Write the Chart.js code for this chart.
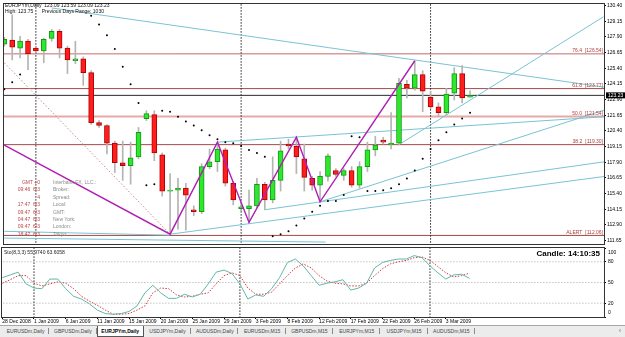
<!DOCTYPE html>
<html>
<head>
<meta charset="utf-8">
<script src="https://cdn.jsdelivr.net/npm/chart.js@4.4.0/dist/chart.umd.min.js"></script>
<style>
  html, body { margin: 0; padding: 0; background: #fff; }
  body { width: 625px; height: 337px; position: relative; overflow: hidden; font-family: 'Liberation Sans', Arial, sans-serif; }
  canvas { position: absolute; left: 0; }
  #main { top: 0; }
  #sto { top: 247px; }
  .hdr { position: absolute; left: 5px; font-size: 5px; line-height: 6px; color: #111; white-space: pre; }
  #info { position: absolute; left: 0; top: 179px; font-size: 5px; line-height: 7.4px; white-space: pre; }
  #info .r { display: inline-block; width: 40px; text-align: right; color: #c04646; }
  #info .l { display: inline-block; margin-left: 13px; color: #8c8c8c; }
  #stoTitle { position: absolute; left: 4px; top: 249px; font-size: 5px; color: #222; white-space: pre; }
  #timer { position: absolute; right: 25px; top: 249px; font: bold 8px 'Liberation Sans', Arial, sans-serif; color: #000; }
  #tabs { position: absolute; left: 0; top: 325px; width: 625px; height: 12px; box-sizing: border-box; padding-left: 2px;
          background: #ececec; border-top: 1px solid #a8a8a8; display: flex; font-size: 5px; white-space: nowrap; }
  .tab { position: relative; width: 47.3px; height: 11px; line-height: 10px; text-align: center; color: #444; flex: none; }
  .tab:after { content: ''; position: absolute; right: 0; top: 2px; height: 6px; border-right: 1px solid #8a8a8a; }
  .tab.on { background: #fff; color: #000; font-weight: bold; border: 1px solid #555; border-top: none; box-sizing: border-box; }
  .tab.on:after { display: none; }
  #arrow { position: absolute; right: 4px; top: 0; line-height: 10px; font-size: 7px; color: #777; }
</style>
</head>
<body>
<canvas id="main" width="625" height="248"></canvas>
<canvas id="sto" width="625" height="80"></canvas>

<div class="hdr" style="top:2px">EURJPYm,Daily  123.09 123.59 123.09 123.23</div>
<div class="hdr" style="top:8px">High: 123.75      Previous Days Range: 1030</div>

<div id="info"><span class="r">GMT +0</span><span class="l">Interbank FX, LLC.:</span>
<span class="r">09:46  6/3</span><span class="l">Broker:</span>
<span class="r">4</span><span class="l">Spread:</span>
<span class="r">17:47  6/3</span><span class="l">Local:</span>
<span class="r">09:47  6/3</span><span class="l">GMT:</span>
<span class="r">04:47  6/3</span><span class="l">New York:</span>
<span class="r">09:47  6/3</span><span class="l">London:</span>
<span class="r">18:47  6/3</span><span class="l">Tokyo:</span></div>

<div id="stoTitle">Sto(8,3,3) 55.9740 63.6058</div>
<div id="timer">Candle:  14:10:35</div>

<div id="tabs"><span class="tab">EURUSDm,Daily</span><span class="tab">GBPUSDm,Daily</span><span class="tab on">EURJPYm,Daily</span><span class="tab">USDJPYm,Daily</span><span class="tab">AUDUSDm,Daily</span><span class="tab">EURUSDm,M15</span><span class="tab">GBPUSDm,M15</span><span class="tab">EURJPYm,M15</span><span class="tab">USDJPYm,M15</span><span class="tab">AUDUSDm,M15</span><span id="arrow">‹</span></div>

<script>
// daily bars, 28 Dec 2008 .. 6 Mar 2009 (Sunday bars included)
const opens = [127.31,127.63,127.00,127.55,127.00,126.77,127.78,128.33,127.00,125.99,
  126.14,125.05,121.06,120.83,119.42,117.86,117.63,118.33,121.38,121.69,
  118.49,115.60,115.67,115.83,114.11,113.95,117.55,117.94,118.88,116.22,
  114.19,114.19,114.42,116.14,114.89,116.45,119.35,119.19,118.17,116.61,
  116.06,116.77,117.24,116.85,117.24,116.06,117.55,118.88,119.66,119.27,
  119.42,124.11,123.80,124.89,123.10,122.31,121.85,123.41,124.97,123.09];
const highs = [127.86,129.66,127.94,127.70,127.16,127.78,128.49,128.49,127.16,127.55,
  126.30,125.20,121.22,120.91,119.58,119.58,119.50,120.67,122.00,122.00,
  118.64,117.00,116.61,116.22,114.42,117.78,118.95,119.50,119.03,116.38,
  114.66,115.67,116.61,116.30,118.33,119.58,119.74,119.89,119.35,116.77,
  117.16,118.56,117.39,117.39,117.55,117.94,119.50,119.97,119.89,121.85,
  124.58,124.42,125.99,125.20,123.56,122.63,123.80,125.44,125.60,123.59];
const lows = [127.16,126.06,126.22,125.28,126.61,125.83,127.55,126.22,124.97,125.75,
  124.03,120.91,120.67,118.56,117.08,116.45,116.14,118.17,121.22,118.02,
  115.20,112.16,112.55,112.47,113.64,113.80,117.39,117.16,115.99,114.50,
  114.03,113.10,114.27,114.11,114.66,115.60,118.95,117.00,115.60,115.67,
  114.74,116.38,116.77,116.45,115.91,115.83,117.16,118.41,119.35,118.95,
  119.27,123.02,123.64,121.92,122.16,121.53,121.69,122.86,122.63,123.09];
const closes = [127.70,127.08,127.55,126.53,126.77,127.70,128.33,127.00,126.06,126.14,
  125.05,121.06,120.83,119.42,117.86,117.63,118.25,120.28,121.77,118.64,
  115.60,115.67,115.83,115.28,113.95,117.55,117.94,118.95,116.22,114.89,
  114.35,114.42,116.14,114.89,116.45,118.80,119.19,118.33,116.69,116.06,
  116.77,118.41,116.92,117.24,116.06,117.55,118.88,119.27,119.50,119.42,
  124.19,123.80,124.89,123.56,122.31,121.85,123.33,124.97,123.02,123.23];

// parabolic SAR dots (null = off the chart)
const sar = [123.72,124.27,124.89,null,null,null,null,null,null,null,
  null,129.58,128.88,128.02,126.92,125.52,124.11,122.63,116.06,116.14,
  122.00,121.92,121.53,121.14,120.83,120.44,120.05,119.74,119.50,119.42,
  119.19,118.88,118.64,118.33,112.00,112.16,112.39,112.86,113.41,113.95,
  114.42,114.81,114.81,115.28,119.97,119.89,115.60,115.60,115.67,115.83,
  116.14,116.61,117.24,118.17,118.95,119.66,120.28,120.91,121.38,121.85];

// stochastic (8,3,3)
const stoK = [57,61,65,48,42,41,55,55,41,30, 26,19,10,5,4,5,8,16,35,46,
  35,27,27,33,29,33,48,65,68,63, 48,26,32,30,41,57,79,84,74,60,
  46,49,51,54,39,42,49,71,79,82, 84,84,89,86,74,64,55,61,62,55.97];
const stoD = [49,54,60,60,49,45,48,51,49,41, 30,23,17,10,4,4,5,10,16,35,
  42,41,32,29,30,33,35,48,60,64, 60,42,33,33,36,48,60,71,77,71,
  60,52,49,48,45,45,49,60,70,77, 80,82,86,87,82,73,64,58,60,63.61];
const stoLevels = [80, 50, 20];
const stoTicks = [100, 80, 50, 20, 0];

// drawn objects: [bar index, price]
const levelNames = ['76.4', '61.8', '50.0', '38.2', 'ALERT'];
const levelValues = [126.54, 123.77, 121.54, 119.30, 112.06];
const lastPrice = 123.23;
const zigzag = [[0,119.27],[21,112.16],[27,119.50],[31,113.10],[37,119.89],[40,114.74],[52,125.99]];
const fanLine = [[0,125.83],[21,112.16]];
const trendLines = [
  [[6.0,130.20],[76.1,123.88]],
  [[50.0,119.30],[75.9,129.50]],
  [[27.0,119.50],[76.1,121.53]],
  [[40.0,114.74],[76.1,122.08]],
  [[21.0,112.16],[76.1,116.77]],
  [[33.0,114.11],[76.1,117.94]],
  [[0,112.39],[21.0,112.08]],
  [[0,111.85],[40.7,111.53]]
];
const monthStarts = [4, 30, 54];

const priceTicks = [130.40,129.15,127.90,126.65,125.40,124.15,122.90,121.65,120.40,119.15,117.90,116.65,115.40,114.15,112.90,111.65];
const dateTickIdx = [0,4,8,12,16,20,24,28,32,36,40,44,48,52,56];
const dateTickLabels = ['28 Dec 2008','1 Jan 2009','6 Jan 2009','11 Jan 2009','15 Jan 2009','20 Jan 2009','25 Jan 2009',
  '29 Jan 2009','3 Feb 2009','8 Feb 2009','12 Feb 2009','17 Feb 2009','22 Feb 2009','26 Feb 2009','3 Mar 2009'];

const FONT = "'Liberation Sans', Arial, sans-serif";
Chart.defaults.font.family = FONT;
const xMin = -0.04, xMax = 75.97;

const levelColors = ['#c46a6a', '#a44848', '#e6aaaa', '#a44848', '#a44848'];
const levelWidths = [1, 1, 2, 1, 1];

function seg(points, color, width, dash, order) {
  return {
    type: 'line', data: points.map(p => ({x: p[0], y: p[1]})),
    borderColor: color, borderWidth: width, borderDash: dash || [],
    pointRadius: 0, fill: false, tension: 0, order: order
  };
}

const up = r => r && r.y[1] >= r.y[0];

const mainSets = [];
levelValues.forEach((v, i) => mainSets.push(seg([[-1, v], [80, v]], levelColors[i], levelWidths[i], null, 10)));
mainSets.push(seg([[-1, lastPrice], [80, lastPrice]], '#2a2a2a', 1, null, 10));
monthStarts.forEach(m => mainSets.push(seg([[m, 100], [m, 140]], '#222', 1, [1.5, 1.5], 9)));
trendLines.forEach(t => mainSets.push(seg(t, '#78c4d4', 1, null, 8)));
mainSets.push(seg(fanLine, '#c88a8a', 1, [1.5, 2], 8));
mainSets.push({
  type: 'bar', data: highs.map((h, i) => ({x: i, y: [lows[i], h]})),
  grouped: false, barThickness: 1, backgroundColor: '#b4b4b4', borderWidth: 0, order: 5, clip: 0
});
mainSets.push({
  type: 'bar', data: opens.map((o, i) => ({x: i, y: [o, closes[i]]})),
  grouped: false, barThickness: 5, borderWidth: 1, borderSkipped: false, order: 4, clip: 0,
  backgroundColor: c => up(c.raw) ? '#2ee82e' : '#ff1e1e',
  borderColor: c => up(c.raw) ? '#139a13' : '#b40000'
});
mainSets.push(seg(zigzag, '#b01eb4', 1.4, null, 2));
mainSets.push({
  type: 'line', data: sar.map((v, i) => ({x: i, y: v})).filter(p => p.y !== null),
  showLine: false, pointRadius: 1, pointBorderWidth: 0, pointBackgroundColor: '#000', order: 1
});

const mainDecor = {
  id: 'mainDecor',
  afterDraw(chart) {
    const {ctx, chartArea: a, scales: {y}} = chart;
    ctx.save();
    ctx.strokeStyle = '#333';
    ctx.lineWidth = 1;
    ctx.strokeRect(a.left - 0.5, a.top - 0.5, a.right - a.left + 1, a.bottom - a.top + 1);
    ctx.font = '5px ' + FONT;
    ctx.textBaseline = 'bottom';
    ctx.fillStyle = '#b03c3c';
    levelValues.forEach((v, i) => {
      const py = y.getPixelForValue(v);
      ctx.textAlign = 'right';
      const val = '[' + v.toFixed(2) + ']';
      ctx.fillText(val, a.right - 1, py - 0.5);
      const w = ctx.measureText(val).width;
      ctx.fillText(levelNames[i], a.right - 4 - w, py - 0.5);
    });
    // current price box
    const py = y.getPixelForValue(lastPrice);
    ctx.fillStyle = '#000';
    ctx.fillRect(a.right + 2, py - 3, 19, 6);
    ctx.fillStyle = '#fff';
    ctx.textAlign = 'left';
    ctx.textBaseline = 'middle';
    ctx.fillText(lastPrice.toFixed(2), a.right + 4, py + 0.3);
    ctx.restore();
  }
};

new Chart(document.getElementById('main'), {
  type: 'bar',
  data: { datasets: mainSets },
  options: {
    responsive: false, animation: false,
    layout: { padding: { left: 2, top: 2, right: 0, bottom: 1 } },
    plugins: { legend: { display: false }, tooltip: { enabled: false } },
    scales: {
      x: { type: 'linear', min: xMin, max: xMax, offset: false, display: false },
      y: {
        position: 'right', min: 111.377, max: 130.517, bounds: 'data',
        afterBuildTicks: s => { s.ticks = priceTicks.map(v => ({value: v})); },
        afterFit: s => { s.width = 21; },
        ticks: { autoSkip: false, callback: v => v.toFixed(2), font: { size: 5 }, color: '#000', padding: 1 },
        grid: { drawOnChartArea: false, drawTicks: true, tickLength: 2, tickColor: '#000' },
        border: { display: true, color: '#000' }
      }
    }
  },
  plugins: [mainDecor]
});

// stochastic pane
const stoSets = [];
stoLevels.forEach(v => stoSets.push(seg([[-1, v], [80, v]], '#a8a8a8', 1, [1, 2], 10)));
monthStarts.forEach(m => stoSets.push(seg([[m, -10], [m, 110]], '#222', 1, [1.5, 1.5], 9)));
stoSets.push(seg(stoD.map((v, i) => [i, v]), '#d03a3a', 1, [1.5, 1.5], 3));
stoSets.push(seg(stoK.map((v, i) => [i, v]), '#62b6aa', 1, null, 2));

const stoDecor = {
  id: 'stoDecor',
  afterDraw(chart) {
    const {ctx, chartArea: a, scales: {y}} = chart;
    ctx.save();
    ctx.strokeStyle = '#333';
    ctx.lineWidth = 1;
    ctx.strokeRect(a.left - 0.5, a.top - 0.5, a.right - a.left + 1, a.bottom - a.top + 1);
    ctx.font = '5px ' + FONT;
    ctx.fillStyle = '#000';
    ctx.textAlign = 'left';
    ctx.textBaseline = 'middle';
    stoTicks.forEach(v => {
      const py = Math.min(Math.max(y.getPixelForValue(v), a.top + 4.5), a.bottom - 4);
      ctx.fillText(String(v), a.right + 4, py);
    });
    ctx.restore();
  }
};

new Chart(document.getElementById('sto'), {
  type: 'line',
  data: { datasets: stoSets },
  options: {
    responsive: false, animation: false,
    layout: { padding: { left: 2, top: 1, right: 0, bottom: 1 } },
    plugins: { legend: { display: false }, tooltip: { enabled: false } },
    scales: {
      x: {
        type: 'linear', min: xMin, max: xMax, offset: false,
        afterBuildTicks: s => { s.ticks = dateTickIdx.map(v => ({value: v})); },
        afterFit: s => { s.height = 9; },
        ticks: {
          autoSkip: false, maxRotation: 0, align: 'start', padding: 0,
          callback: v => dateTickLabels[dateTickIdx.indexOf(v)],
          font: { size: 5 }, color: '#000'
        },
        grid: { drawOnChartArea: false, drawTicks: true, tickLength: 2, tickColor: '#000' },
        border: { display: true, color: '#000' }
      },
      y: {
        position: 'right', min: 0, max: 100,
        afterBuildTicks: s => { s.ticks = stoTicks.map(v => ({value: v})); },
        afterFit: s => { s.width = 21; },
        ticks: { display: false },
        grid: { drawOnChartArea: false, drawTicks: true, tickLength: 2, tickColor: '#000' },
        border: { display: true, color: '#000' }
      }
    }
  },
  plugins: [stoDecor]
});
</script>
</body>
</html>
